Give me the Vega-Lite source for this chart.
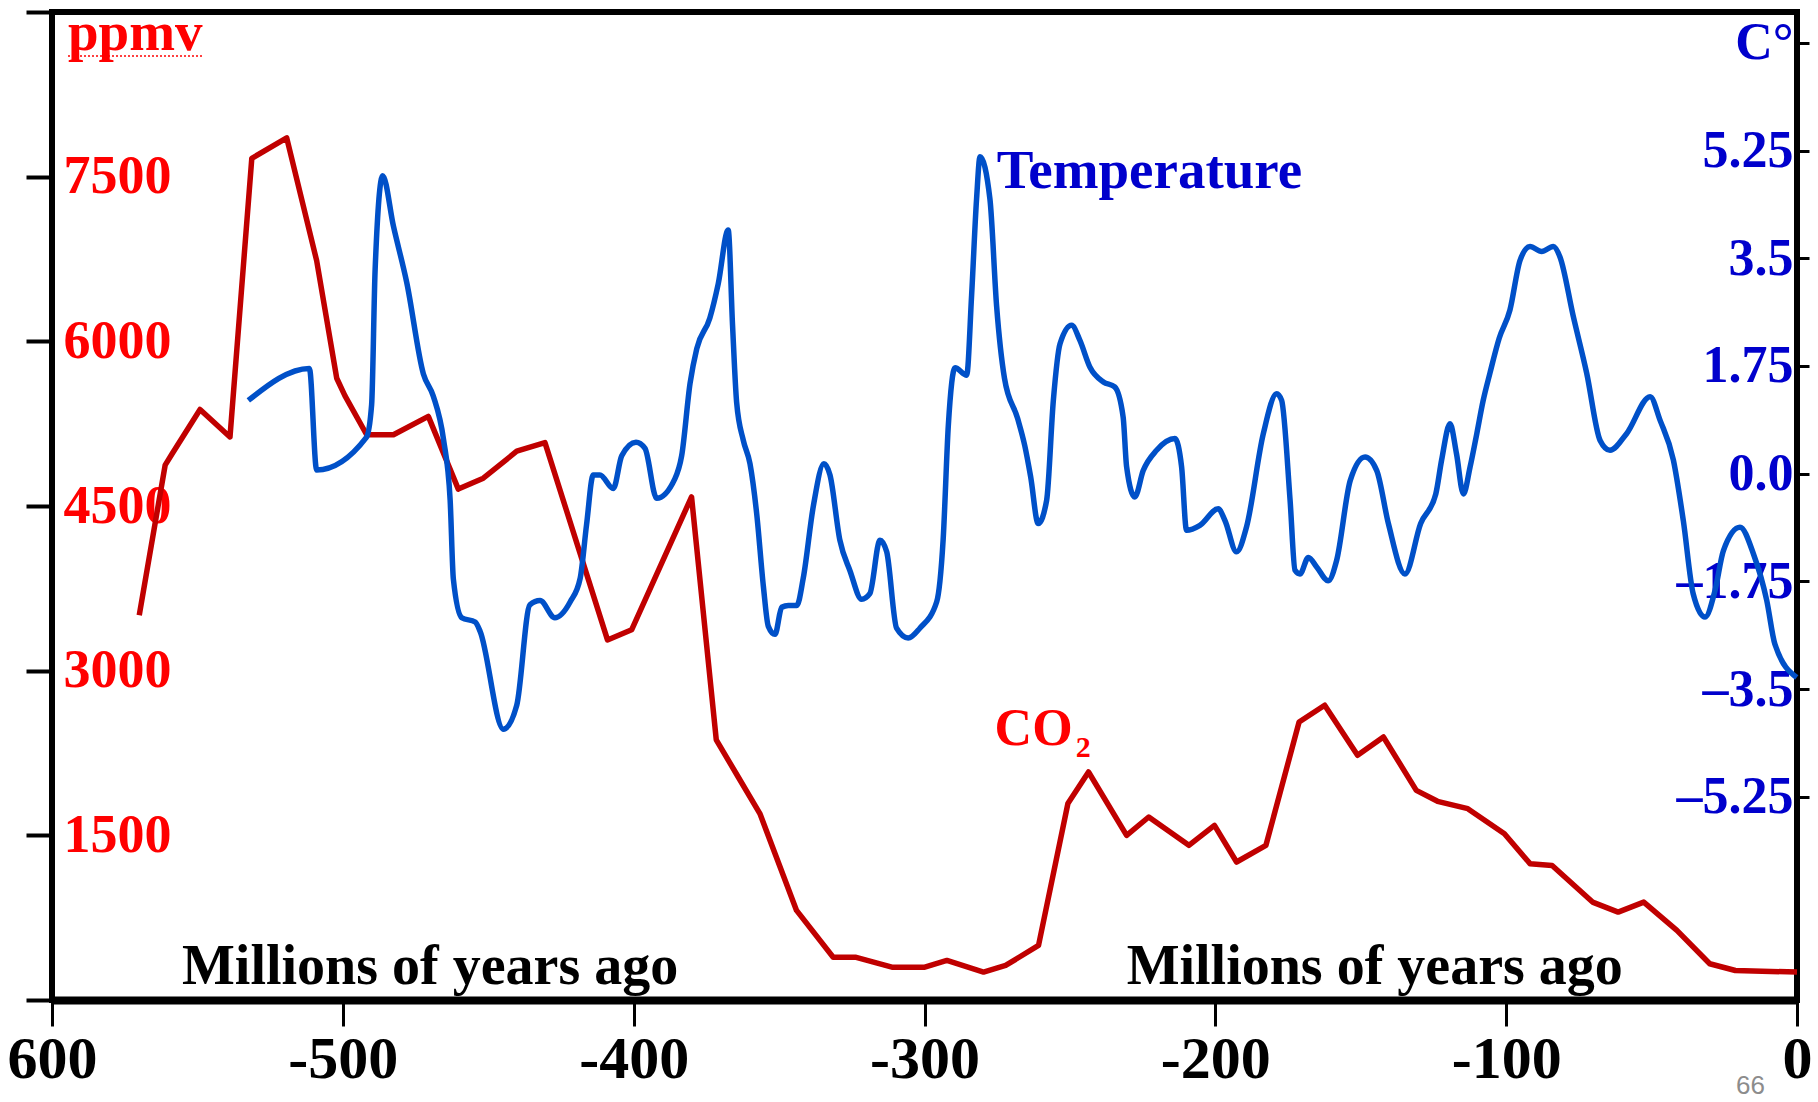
{
  "$schema": "https://vega.github.io/schema/vega-lite/v6.json",
  "width": 1745,
  "height": 988,
  "autosize": {"type": "none"},
  "padding": {"left": 52, "top": 12, "right": 21, "bottom": 102},
  "background": "#ffffff",
  "config": {
    "view": {"stroke": "#000000", "strokeWidth": 6},
    "font": "Liberation Serif"
  },
  "datasets": {
    "co2": [
      {"year": -570.0, "ppmv": 3504}, {"year": -561.1, "ppmv": 4872}, {"year": -558.8, "ppmv": 4971},
      {"year": -549.1, "ppmv": 5379}, {"year": -538.8, "ppmv": 5129}, {"year": -531.3, "ppmv": 7667},
      {"year": -519.3, "ppmv": 7853}, {"year": -509.0, "ppmv": 6735}, {"year": -502.1, "ppmv": 5664},
      {"year": -499.3, "ppmv": 5506}, {"year": -491.8, "ppmv": 5149}, {"year": -482.6, "ppmv": 5149},
      {"year": -470.6, "ppmv": 5316}, {"year": -460.3, "ppmv": 4654}, {"year": -451.7, "ppmv": 4753},
      {"year": -440.2, "ppmv": 4999}, {"year": -430.5, "ppmv": 5078}, {"year": -409.0, "ppmv": 3280},
      {"year": -400.7, "ppmv": 3372}, {"year": -380.1, "ppmv": 4583}, {"year": -371.6, "ppmv": 2370},
      {"year": -364.0, "ppmv": 2029}, {"year": -356.6, "ppmv": 1698}, {"year": -344.0, "ppmv": 816},
      {"year": -331.4, "ppmv": 390}, {"year": -323.8, "ppmv": 390}, {"year": -311.2, "ppmv": 299},
      {"year": -299.9, "ppmv": 299}, {"year": -292.3, "ppmv": 360}, {"year": -279.7, "ppmv": 254},
      {"year": -272.1, "ppmv": 315}, {"year": -260.8, "ppmv": 497}, {"year": -250.7, "ppmv": 1789},
      {"year": -243.6, "ppmv": 2077}, {"year": -230.5, "ppmv": 1500}, {"year": -222.9, "ppmv": 1667},
      {"year": -209.1, "ppmv": 1409}, {"year": -200.3, "ppmv": 1591}, {"year": -192.7, "ppmv": 1257},
      {"year": -182.6, "ppmv": 1409}, {"year": -171.2, "ppmv": 2533}, {"year": -162.4, "ppmv": 2685},
      {"year": -151.1, "ppmv": 2229}, {"year": -142.2, "ppmv": 2396}, {"year": -130.9, "ppmv": 1910},
      {"year": -123.6, "ppmv": 1810}, {"year": -113.2, "ppmv": 1743}, {"year": -100.6, "ppmv": 1515},
      {"year": -91.8, "ppmv": 1242}, {"year": -84.2, "ppmv": 1226}, {"year": -70.3, "ppmv": 892},
      {"year": -61.5, "ppmv": 801}, {"year": -52.7, "ppmv": 892}, {"year": -41.3, "ppmv": 634},
      {"year": -30.0, "ppmv": 330}, {"year": -21.2, "ppmv": 269}, {"year": 0, "ppmv": 254}
    ],
    "temp": [
      {"year": -532.5, "temp": 1.19}, {"year": -511.5, "temp": 1.71}, {"year": -509.0, "temp": 0.06},
      {"year": -491.9, "temp": 0.59}, {"year": -490.1, "temp": 1.12}, {"year": -488.9, "temp": 3.31},
      {"year": -486.3, "temp": 4.84}, {"year": -482.6, "temp": 4.02}, {"year": -478.0, "temp": 3.10},
      {"year": -472.3, "temp": 1.62}, {"year": -468.9, "temp": 1.26}, {"year": -465.4, "temp": 0.56},
      {"year": -463.1, "temp": -0.43}, {"year": -462.0, "temp": -1.71}, {"year": -459.1, "temp": -2.34},
      {"year": -454.5, "temp": -2.41}, {"year": -452.8, "temp": -2.56}, {"year": -444.8, "temp": -4.15},
      {"year": -440.2, "temp": -3.76}, {"year": -435.7, "temp": -2.13}, {"year": -432.2, "temp": -2.06},
      {"year": -427.1, "temp": -2.34}, {"year": -421.8, "temp": -2.08}, {"year": -418.4, "temp": -1.70},
      {"year": -416.2, "temp": -0.83}, {"year": -413.9, "temp": -0.02}, {"year": -411.6, "temp": -0.02},
      {"year": -407.0, "temp": -0.24}, {"year": -404.1, "temp": 0.29}, {"year": -399.2, "temp": 0.51},
      {"year": -396.1, "temp": 0.41}, {"year": -392.1, "temp": -0.40}, {"year": -385.8, "temp": -0.08},
      {"year": -383.5, "temp": 0.29}, {"year": -380.6, "temp": 1.47}, {"year": -378.3, "temp": 2.03},
      {"year": -373.8, "temp": 2.53}, {"year": -370.9, "temp": 3.09}, {"year": -367.5, "temp": 3.96},
      {"year": -366.0, "temp": 2.41}, {"year": -364.6, "temp": 1.16}, {"year": -362.3, "temp": 0.54},
      {"year": -360.0, "temp": 0.16}, {"year": -357.7, "temp": -0.65}, {"year": -355.4, "temp": -1.83},
      {"year": -353.7, "temp": -2.48}, {"year": -351.4, "temp": -2.61}, {"year": -349.1, "temp": -2.17},
      {"year": -346.8, "temp": -2.14}, {"year": -343.9, "temp": -2.14}, {"year": -341.7, "temp": -1.70},
      {"year": -338.2, "temp": -0.52}, {"year": -334.6, "temp": 0.16}, {"year": -332.5, "temp": -0.02},
      {"year": -329.1, "temp": -1.08}, {"year": -325.6, "temp": -1.58}, {"year": -321.6, "temp": -2.04},
      {"year": -318.8, "temp": -1.95}, {"year": -315.3, "temp": -1.08}, {"year": -313.0, "temp": -1.27},
      {"year": -309.6, "temp": -2.51}, {"year": -305.6, "temp": -2.67}, {"year": -301.6, "temp": -2.51},
      {"year": -295.8, "temp": -2.08}, {"year": -293.6, "temp": -1.08}, {"year": -291.8, "temp": 0.79},
      {"year": -289.5, "temp": 1.72}, {"year": -285.5, "temp": 1.60}, {"year": -283.8, "temp": 2.90},
      {"year": -282.1, "temp": 4.46}, {"year": -280.9, "temp": 5.15}, {"year": -277.5, "temp": 4.46},
      {"year": -275.2, "temp": 2.72}, {"year": -272.5, "temp": 1.55}, {"year": -268.0, "temp": 0.90},
      {"year": -265.5, "temp": 0.45}, {"year": -263.5, "temp": -0.05}, {"year": -260.9, "temp": -0.81},
      {"year": -258.0, "temp": -0.43}, {"year": -255.7, "temp": 1.19}, {"year": -253.4, "temp": 2.11},
      {"year": -249.4, "temp": 2.41}, {"year": -246.6, "temp": 2.17}, {"year": -243.1, "temp": 1.73},
      {"year": -238.5, "temp": 1.49}, {"year": -234.6, "temp": 1.41}, {"year": -231.7, "temp": 0.92},
      {"year": -230.5, "temp": 0.11}, {"year": -227.7, "temp": -0.38}, {"year": -224.8, "temp": 0.05},
      {"year": -220.2, "temp": 0.38}, {"year": -213.9, "temp": 0.57}, {"year": -211.6, "temp": 0.11},
      {"year": -209.9, "temp": -0.92}, {"year": -205.3, "temp": -0.84}, {"year": -199.0, "temp": -0.57},
      {"year": -196.7, "temp": -0.76}, {"year": -192.7, "temp": -1.27}, {"year": -189.3, "temp": -0.87},
      {"year": -183.5, "temp": 0.65}, {"year": -178.9, "temp": 1.30}, {"year": -177.2, "temp": 1.19},
      {"year": -174.3, "temp": -0.43}, {"year": -172.6, "temp": -1.57}, {"year": -170.9, "temp": -1.63},
      {"year": -168.0, "temp": -1.36}, {"year": -165.1, "temp": -1.52}, {"year": -161.2, "temp": -1.74},
      {"year": -158.3, "temp": -1.41}, {"year": -153.6, "temp": -0.11}, {"year": -148.5, "temp": 0.27},
      {"year": -144.5, "temp": 0.05}, {"year": -140.5, "temp": -0.81}, {"year": -134.8, "temp": -1.63},
      {"year": -129.4, "temp": -0.81}, {"year": -124.2, "temp": -0.33}, {"year": -122.2, "temp": 0.22},
      {"year": -119.3, "temp": 0.81}, {"year": -117.1, "temp": 0.33}, {"year": -114.7, "temp": -0.33},
      {"year": -112.4, "temp": 0.11}, {"year": -110.1, "temp": 0.65}, {"year": -107.9, "temp": 1.19},
      {"year": -105.6, "temp": 1.63}, {"year": -102.4, "temp": 2.20}, {"year": -98.7, "temp": 2.66},
      {"year": -95.2, "temp": 3.47}, {"year": -91.8, "temp": 3.69}, {"year": -87.8, "temp": 3.61},
      {"year": -83.8, "temp": 3.69}, {"year": -81.5, "temp": 3.52}, {"year": -76.9, "temp": 2.55},
      {"year": -72.3, "temp": 1.63}, {"year": -67.7, "temp": 0.54}, {"year": -64.3, "temp": 0.38},
      {"year": -58.6, "temp": 0.65}, {"year": -50.5, "temp": 1.25}, {"year": -47.1, "temp": 0.87},
      {"year": -42.5, "temp": 0.22}, {"year": -39.1, "temp": -0.76}, {"year": -35.7, "temp": -1.95},
      {"year": -31.6, "temp": -2.33}, {"year": -28.2, "temp": -1.90}, {"year": -25.3, "temp": -1.25},
      {"year": -19.6, "temp": -0.87}, {"year": -15.0, "temp": -1.30}, {"year": -10.4, "temp": -2.06},
      {"year": -7.6, "temp": -2.77}, {"year": -0.1, "temp": -3.31}
    ]
  },
  "encoding": {
    "x": {
      "field": "year",
      "type": "quantitative",
      "scale": {"domain": [-600, 0], "nice": false, "zero": false},
      "axis": {
        "orient": "bottom",
        "title": null,
        "grid": false,
        "values": [-600, -500, -400, -300, -200, -100, 0],
        "labelExpr": "datum.value == -600 ? '600' : datum.value == 0 ? '0' : '-' + toString(abs(datum.value))",
        "labelFont": "Liberation Serif",
        "labelFontWeight": "bold",
        "labelFontSize": 60,
        "labelColor": "#000000",
        "labelFlush": false,
        "labelOverlap": false,
        "labelPadding": 4,
        "tickSize": 26,
        "tickWidth": 3,
        "tickColor": "#000000",
        "domain": true,
        "domainWidth": 8,
        "domainColor": "#000000"
      }
    }
  },
  "layer": [
    {
      "encoding": {
        "y": {
          "field": "ppmv",
          "type": "quantitative",
          "scale": {"domain": [0, 9000], "nice": false, "zero": false},
          "axis": {
            "orient": "left",
            "title": null,
            "grid": false,
            "domain": false,
            "values": [0, 1500, 3000, 4500, 6000, 7500, 9000],
            "labelExpr": "datum.value == 0 || datum.value == 9000 ? '' : toString(datum.value)",
            "labelAlign": "left",
            "labelBaseline": "middle",
            "labelPadding": -37,
            "labelFont": "Liberation Serif",
            "labelFontWeight": "bold",
            "labelFontSize": 54,
            "labelColor": "#ff0000",
            "labelOverlap": false,
            "labelFlush": false,
            "tickSize": 26,
            "tickWidth": 4,
            "tickColor": "#000000"
          }
        }
      },
      "layer": [
        {
          "data": {"name": "co2"},
          "mark": {"type": "line", "color": "#c00000", "strokeWidth": 5.5, "strokeJoin": "round"}
        },
        {
          "data": {"values": [{"year": -594.5, "ppmv": 8658, "label": "ppmv"}]},
          "mark": {"type": "text", "align": "left", "baseline": "alphabetic", "font": "Liberation Serif", "fontWeight": "bold", "fontSize": 55, "color": "#ff0000"},
          "encoding": {"text": {"field": "label"}}
        },
        {
          "data": {"values": [{"year": -594.5, "year2": -548.0, "ppmv": 8600}]},
          "mark": {"type": "rule", "color": "#ff0000", "strokeWidth": 1.5, "strokeDash": [2, 2]},
          "encoding": {"x2": {"field": "year2"}}
        },
        {
          "data": {"values": [{"year": -275.9, "ppmv": 2321, "label": "CO"}]},
          "mark": {"type": "text", "align": "left", "baseline": "alphabetic", "font": "Liberation Serif", "fontWeight": "bold", "fontSize": 52, "color": "#ff0000"},
          "encoding": {"text": {"field": "label"}}
        },
        {
          "data": {"values": [{"year": -248.0, "ppmv": 2215, "label": "2"}]},
          "mark": {"type": "text", "align": "left", "baseline": "alphabetic", "font": "Liberation Serif", "fontWeight": "bold", "fontSize": 30, "color": "#ff0000"},
          "encoding": {"text": {"field": "label"}}
        },
        {
          "data": {"values": [{"year": -555.3, "ppmv": 150, "label": "Millions of years ago"}, {"year": -230.5, "ppmv": 150, "label": "Millions of years ago"}]},
          "mark": {"type": "text", "align": "left", "baseline": "alphabetic", "font": "Liberation Serif", "fontWeight": "bold", "fontSize": 56, "color": "#000000"},
          "encoding": {"text": {"field": "label"}}
        },
        {
          "data": {"values": [{"year": -21.0, "ppmv": -860, "label": "66"}]},
          "mark": {"type": "text", "align": "left", "baseline": "alphabetic", "font": "Liberation Sans", "fontSize": 26, "color": "#8c8c8c"},
          "encoding": {"text": {"field": "label"}}
        }
      ]
    },
    {
      "encoding": {
        "y": {
          "field": "temp",
          "type": "quantitative",
          "scale": {"domain": [-8.55, 7.5], "nice": false, "zero": false},
          "axis": {
            "orient": "right",
            "title": null,
            "grid": false,
            "domain": false,
            "values": [-5.25, -3.5, -1.75, 0, 1.75, 3.5, 5.25, 7],
            "labelExpr": "datum.value == 7 ? 'C°' : datum.value == 0 ? '0.0' : (datum.value < 0 ? '–' : '') + toString(abs(datum.value))",
            "labelAlign": "right",
            "labelBaseline": "middle",
            "labelPadding": -16,
            "labelFont": "Liberation Serif",
            "labelFontWeight": "bold",
            "labelFontSize": 52,
            "labelColor": "#0000cc",
            "labelOverlap": false,
            "labelFlush": false,
            "tickSize": 12,
            "tickWidth": 3,
            "tickColor": "#000000"
          }
        }
      },
      "layer": [
        {
          "data": {"name": "temp"},
          "mark": {"type": "line", "color": "#0050c8", "strokeWidth": 5.5, "interpolate": "monotone", "strokeJoin": "round"}
        },
        {
          "data": {"values": [{"year": -275.2, "temp": 4.64, "label": "Temperature"}]},
          "mark": {"type": "text", "align": "left", "baseline": "alphabetic", "font": "Liberation Serif", "fontWeight": "bold", "fontSize": 55, "color": "#0000cc"},
          "encoding": {"text": {"field": "label"}}
        }
      ]
    }
  ],
  "resolve": {"scale": {"y": "independent"}, "axis": {"y": "independent"}}
}
